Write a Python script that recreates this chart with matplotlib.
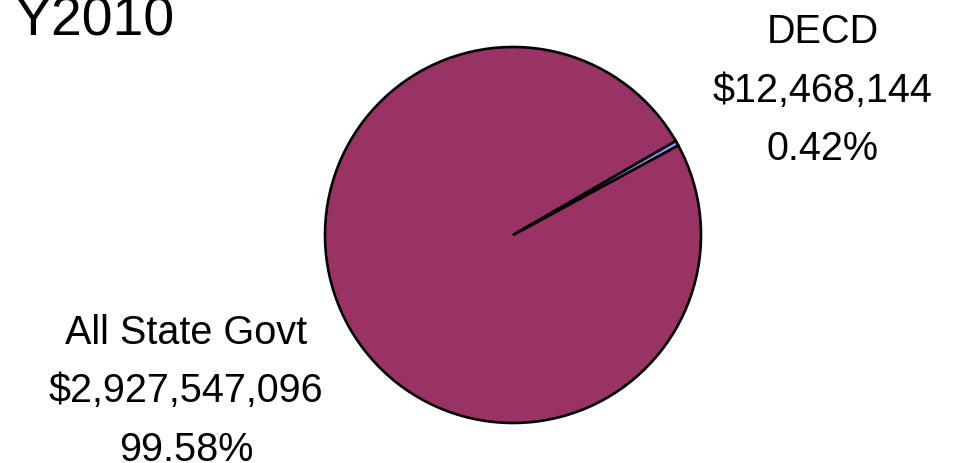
import matplotlib.pyplot as plt

labels = ['All State Govt', 'DECD']
amounts = [2927547096, 12468144]
pct_labels = ['99.58%', '0.42%']
colors = ['#993366', '#9999FF']

W, H = 957, 464
fig = plt.figure(figsize=(W / 100, H / 100), dpi=100)
ax = fig.add_axes([0, 0, 1, 1])

plt.rcParams['font.family'] = ['Liberation Sans', 'DejaVu Sans']

# start so the small DECD slice sits at about 28-30 degrees
ax.pie(amounts, colors=colors, startangle=30, counterclock=True,
       center=(513, H - 236), radius=188, frame=True,
       wedgeprops=dict(edgecolor='black', linewidth=1.9))
ax.set_xlim(0, W)
ax.set_ylim(0, H)
ax.set_aspect('equal')
ax.axis('off')

# one text per line so the baselines can be set like in the source
label_pos = [(186, [344, 402, 461]), (823, [43, 102, 160])]
for i, (x, baselines) in enumerate(label_pos):
    lines = [labels[i], f"${amounts[i]:,}", pct_labels[i]]
    for line, yb in zip(lines, baselines):
        ax.text(x, H - yb, line, ha='center', va='baseline', fontsize=28.5)

# title partly cut off at top-left, as in the source
ax.text(15, H - 35, 'Y2010', ha='left', va='baseline', fontsize=40)

plt.savefig('out.png', dpi=100)
